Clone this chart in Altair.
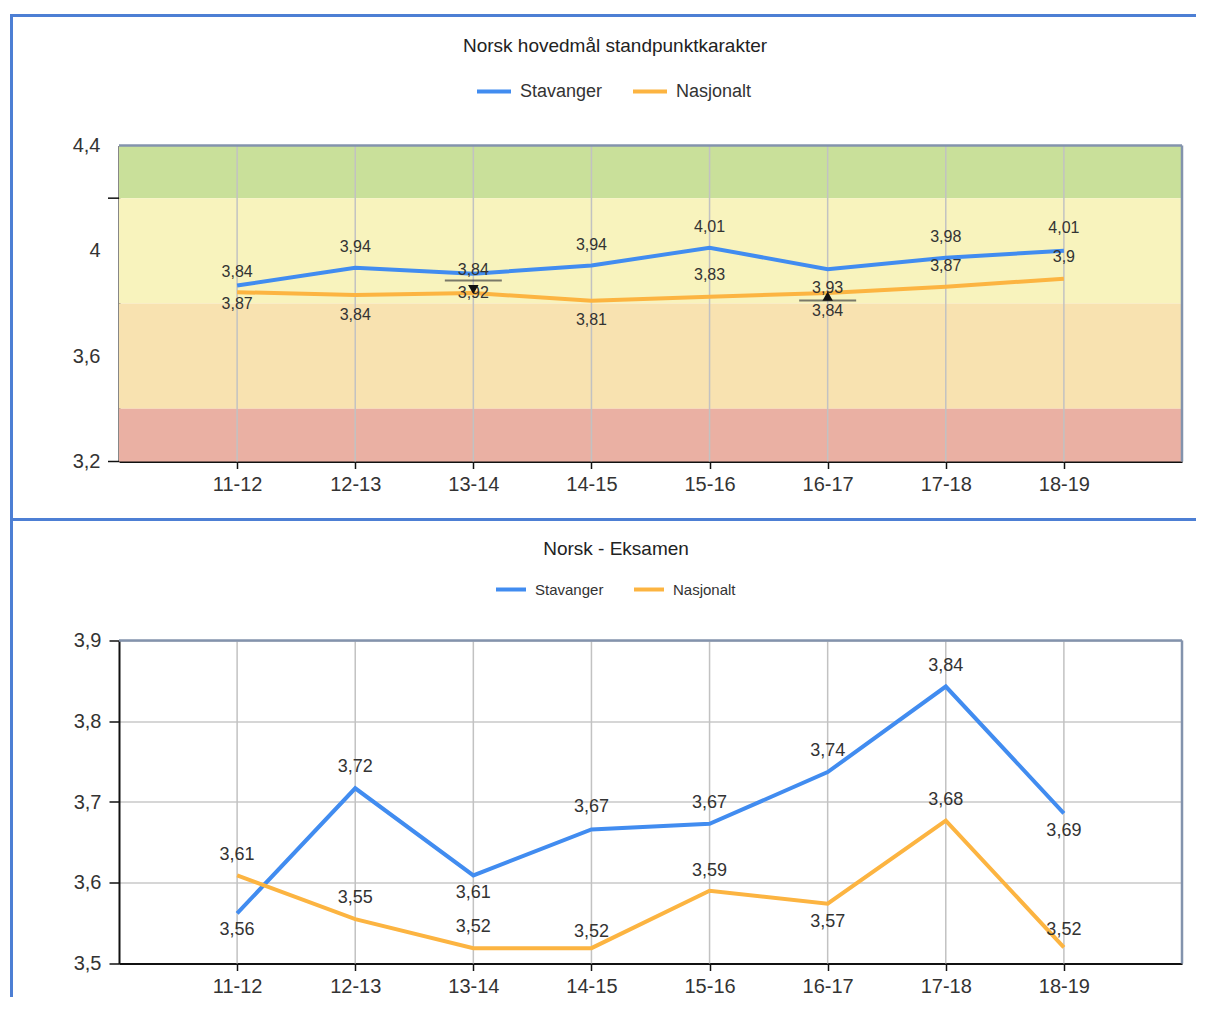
import altair as alt
import pandas as pd

FONT = "Liberation Sans"
TXT = "#333333"
FRAME = "#4d7fd4"
BORDER = "#8393ad"

categories = ["11-12", "12-13", "13-14", "14-15", "15-16", "16-17", "17-18", "18-19"]
series_names = ["Stavanger", "Nasjonalt"]
series_colors = ["#418CF0", "#FCB441"]

# ---------------- top chart ----------------
top_title = "Norsk hovedmål standpunktkarakter"
top_stavanger = [3.868, 3.936, 3.913, 3.944, 4.012, 3.930, 3.974, 4.000]
top_nasjonalt = [3.843, 3.832, 3.840, 3.810, 3.826, 3.840, 3.864, 3.894]
top_label_stavanger = [3.84, 3.94, 3.84, 3.94, 4.01, 3.93, 3.98, 4.01]
top_label_nasjonalt = [3.87, 3.84, 3.92, 3.81, 3.83, 3.84, 3.87, 3.9]
top_off_stavanger = [-14, -21, -4, -21, -21, 19, -21, -23]
top_off_nasjonalt = [12, 20, 0, 19, -22, 18, -21, -22]
top_y_labels = [3.2, 3.6, 4.0, 4.4]
top_y_ticks = [4.2, 3.2]
band_low = [4.2, 3.8, 3.4, 3.2]
band_high = [4.4, 4.2, 3.8, 3.4]
band_colors = ["#c9e09a", "#f8f3bd", "#f8e2b0", "#eab0a3"]
marker_cats = ["13-14", "16-17"]
marker_bar = [3.887, 3.811]
marker_arrow = [3.853, 3.828]
marker_shape = ["triangle-down", "triangle-up"]

# ---------------- bottom chart ----------------
bot_title = "Norsk - Eksamen"
bot_stavanger = [3.562, 3.717, 3.609, 3.666, 3.673, 3.737, 3.843, 3.686]
bot_nasjonalt = [3.609, 3.555, 3.519, 3.519, 3.590, 3.574, 3.677, 3.520]
bot_label_stavanger = [3.56, 3.72, 3.61, 3.67, 3.67, 3.74, 3.84, 3.69]
bot_label_nasjonalt = [3.61, 3.55, 3.52, 3.52, 3.59, 3.57, 3.68, 3.52]
bot_off_stavanger = [17, -21, 18, -22, -21, -21, -21, 18]
bot_off_nasjonalt = [-20, -21, -21, -16, -20, 18, -21, -17]
bot_y_values = [3.5, 3.6, 3.7, 3.8, 3.9]

W = 1063
H_TOP = 316
H_BOT = 323
ONE = pd.DataFrame({"a": [0]})


def fmt(v):
    return f"{v:g}".replace(".", ",")


def rule(color, width, **enc):
    return alt.Chart(ONE).mark_rule(color=color, strokeWidth=width, strokeCap="square").encode(
        **{k: alt.value(v) for k, v in enc.items()})


def title_mark(text, x, y):
    return alt.Chart(ONE).mark_text(fontSize=19, font=FONT, color="#222", baseline="middle",
                                    align="center").encode(
        x=alt.value(x), y=alt.value(y), text=alt.value(text))


def make_chart(stav, nasj, lab_s, lab_n, off_s, off_n, ydomain, height,
               legend_xy, legend_font, legend_sym, label_font,
               y_values, y_ticks_axis, pre_layers, post_layers):
    lines = pd.DataFrame({
        "cat": categories * 2,
        "series": [series_names[0]] * 8 + [series_names[1]] * 8,
        "value": stav + nasj,
    })
    labels = pd.DataFrame({
        "cat": categories * 2,
        "value": stav + nasj,
        "text": [fmt(v) for v in lab_s + lab_n],
        "off": off_s + off_n,
    })
    xenc = alt.X("cat:N", sort=categories,
                 scale=alt.Scale(type="point", padding=1),
                 axis=alt.Axis(title=None, labelAngle=0, labelFontSize=20, labelFont=FONT,
                               labelColor=TXT, tickSize=7, tickColor="#111", tickWidth=1.5,
                               domainColor="#111", domainWidth=2, grid=False, labelPadding=6))
    yscale = alt.Scale(domain=ydomain, nice=False, zero=False)
    yaxis = alt.Axis(title=None, values=y_values, labelFontSize=20, labelFont=FONT,
                     labelColor=TXT, domainColor="#111", domainWidth=2,
                     labelExpr="replace(format(datum.value, '.1~f'), '.', ',')",
                     ticks=y_ticks_axis, tickSize=10, tickColor="#111", tickWidth=1.5,
                     labelPadding=(8 if y_ticks_axis else 19),
                     grid=y_ticks_axis, gridColor="#d6d6d6", gridWidth=2)
    base_y = alt.Y("value:Q", scale=yscale, axis=yaxis)

    grid = alt.Chart(pd.DataFrame({"cat": categories})).mark_rule(
        color="#c2c2c2", strokeWidth=1.5).encode(x=xenc)

    line = alt.Chart(lines).mark_line(strokeWidth=4).encode(
        x=xenc, y=base_y,
        color=alt.Color("series:N", sort=series_names,
                        scale=alt.Scale(domain=series_names, range=series_colors),
                        legend=alt.Legend(orient="none", legendX=legend_xy[0], legendY=legend_xy[1],
                                          direction="horizontal", title=None, symbolType="stroke",
                                          symbolStrokeWidth=4, symbolSize=legend_sym[0] ** 2,
                                          labelFontSize=legend_font, labelFont=FONT, labelColor=TXT,
                                          columnPadding=legend_sym[1], labelOffset=7)),
        detail="series:N")

    text_layers = []
    for off in sorted(set(off_s + off_n)):
        text_layers.append(
            alt.Chart(labels).transform_filter(alt.datum.off == off).mark_text(
                dy=off, fontSize=label_font, font=FONT, color=TXT, baseline="middle"
            ).encode(x=xenc, y=base_y, text="text:N"))

    borders = [
        alt.Chart(ONE).mark_rule(color=BORDER, strokeWidth=2.5).encode(
            x=alt.value(0), x2=alt.value(W), y=alt.value(0)),
        alt.Chart(ONE).mark_rule(color=BORDER, strokeWidth=2.5).encode(
            x=alt.value(W), y=alt.value(0), y2=alt.value(height)),
    ]
    layers = pre_layers(xenc, base_y) + [grid, line] + text_layers + borders + post_layers
    return alt.layer(*layers).properties(width=W, height=height)


def top_extra(xenc, base_y):
    bands = pd.DataFrame({"low": band_low, "high": band_high, "color": band_colors})
    band = alt.Chart(bands).mark_rect().encode(
        x=alt.value(0), x2=alt.value(W),
        y=alt.Y("low:Q", scale=alt.Scale(domain=[3.2, 4.4], nice=False, zero=False)),
        y2="high:Q", color=alt.Color("color:N", scale=None))
    ticks = alt.Chart(pd.DataFrame({"value": top_y_ticks})).mark_rule(
        color="#111", strokeWidth=1.5).encode(
        y=base_y, x=alt.value(-11), x2=alt.value(0))
    return [band, ticks]


top_decor = [
    title_mark(top_title, 496, -100),
    rule(FRAME, 3, x=-107.5, x2=1075.5, y=-130),
    rule(FRAME, 3, x=-107.5, y=-130, y2=353),
]
bot_decor = [
    title_mark(bot_title, 497, -92),
    rule(FRAME, 3, x=-107.5, x2=1075.5, y=-121),
    rule(FRAME, 3, x=-107.5, y=-141.5, y2=355),
]

top = make_chart(top_stavanger, top_nasjonalt, top_label_stavanger,
                 top_label_nasjonalt, top_off_stavanger, top_off_nasjonalt, [3.2, 4.4], H_TOP,
                 (356, -73), 18, (34, 22), 16, top_y_labels, False, top_extra, top_decor)

mdf = pd.DataFrame({"cat": marker_cats, "bar": marker_bar, "arrow": marker_arrow,
                    "shape": marker_shape})
yscale_top = alt.Scale(domain=[3.2, 4.4], nice=False, zero=False)
xm = alt.X("cat:N", sort=categories, scale=alt.Scale(type="point", padding=1))
mark_bar = alt.Chart(mdf).mark_tick(orient="horizontal", size=57, thickness=2, color="#444").encode(
    x=xm, y=alt.Y("bar:Q", scale=yscale_top))
mark_arrow = alt.Chart(mdf).mark_point(filled=True, size=110, color="#111", opacity=1).encode(
    x=xm, y=alt.Y("arrow:Q", scale=yscale_top), shape=alt.Shape("shape:N", scale=None))
top = alt.layer(top, mark_bar, mark_arrow)

bottom = make_chart(bot_stavanger, bot_nasjonalt, bot_label_stavanger,
                    bot_label_nasjonalt, bot_off_stavanger, bot_off_nasjonalt, [3.5, 3.9], H_BOT,
                    (375, -68), 15, (30, 22), 18, bot_y_values, True, lambda x, y: [], bot_decor)

chart = alt.vconcat(top, bottom, spacing=-6).resolve_scale(color="independent").resolve_legend(
    color="independent").properties(
    padding={"left": 0, "top": 4.5, "right": 0, "bottom": 5}
).configure_view(stroke=None).configure(background="white")

chart.save("out.html", embed_options={"renderer": "svg", "actions": False})
